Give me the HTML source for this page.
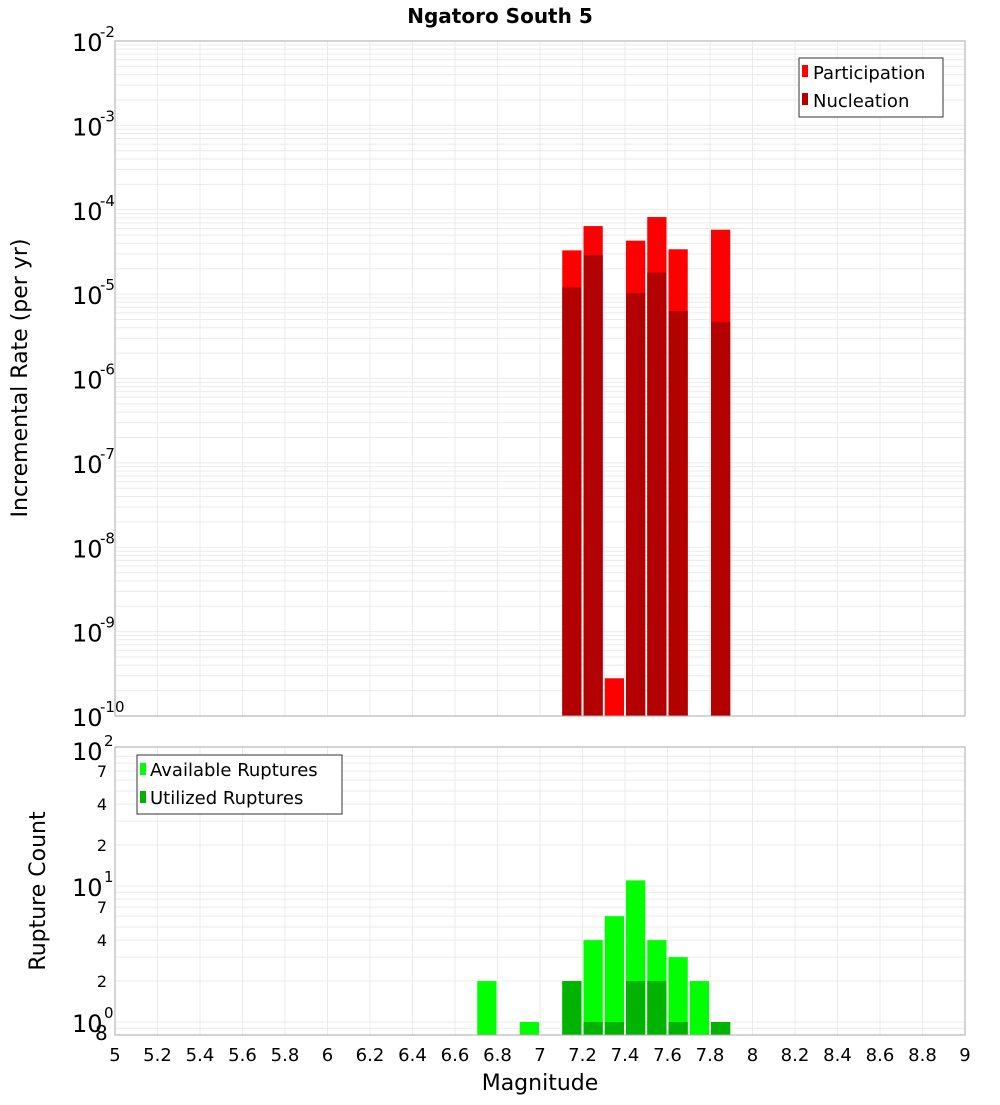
<!DOCTYPE html>
<html><head><meta charset="utf-8"><style>
body{margin:0;background:#fff;}
svg text{font-family:"DejaVu Sans","Liberation Sans",sans-serif;}
</style></head><body>
<svg id="chart" width="1000" height="1100" xmlns="http://www.w3.org/2000/svg">
<text x="500" y="23" text-anchor="middle" font-size="20" font-weight="bold">Ngatoro South 5</text>
<text transform="translate(27,378) rotate(-90)" text-anchor="middle" font-size="22">Incremental Rate (per yr)</text>
<text transform="translate(45,891) rotate(-90)" text-anchor="middle" font-size="22">Rupture Count</text>
<text x="540" y="1090" text-anchor="middle" font-size="22">Magnitude</text>
<g id="topg"></g><g id="botg"></g>
</svg>
<script>
const magBins=[7.15,7.25,7.35,7.45,7.55,7.65,7.85];
const participation=[3.3e-5,6.4e-5,2.8e-10,4.3e-5,8.2e-5,3.4e-5,5.8e-5];
const nucleation=[1.2e-5,2.9e-5,0,1.03e-5,1.8e-5,6.3e-6,4.7e-6];
const countBins=[6.75,6.95,7.15,7.25,7.35,7.45,7.55,7.65,7.75,7.85];
const available=[2,1,2,4,6,11,4,3,2,1];
const utilized=[0,0,2,1,1,2,2,1,0,1];
const xTicks=[5,5.2,5.4,5.6,5.8,6,6.2,6.4,6.6,6.8,7,7.2,7.4,7.6,7.8,8,8.2,8.4,8.6,8.8,9];
const topExps=[-2,-3,-4,-5,-6,-7,-8,-9,-10];
const NS="http://www.w3.org/2000/svg";
const X0=115,X1=965;
const xs=m=>X0+(m-5)/4*(X1-X0);
const TT=41,TB=716;
const yT=v=>TT+(-2-Math.log10(v))/8*(TB-TT);
const BT=747,BB=1035;
const yB=v=>1022-Math.log10(v)*136;
function el(p,t,a){const e=document.createElementNS(NS,t);for(const k in a)e.setAttribute(k,a[k]);p.appendChild(e);return e;}
const topG=document.getElementById('topg'),botG=document.getElementById('botg');
let r=el(topG,'rect',{x:X0,y:TT,width:X1-X0,height:TB-TT,fill:'#fff'});


for(let e=-10;e<-2;e++)for(let k=1;k<10;k++){const yy=yT(k*Math.pow(10,e));
 const l=el(topG,'line',{x1:X0,x2:X1,y1:yy,y2:yy,stroke:'#ebebeb','stroke-width':1});
 
 }
xTicks.forEach(t=>{const l=el(topG,'line',{x1:xs(t),x2:xs(t),y1:TT,y2:TB,stroke:'#ebebeb'});
 
 });
magBins.forEach((m,i)=>{
 const w=xs(5.1)-xs(5);
 if(participation[i]>0){const b=el(topG,'rect',{x:xs(m-0.05)+1,y:yT(participation[i]),width:w-2,height:TB-yT(participation[i]),fill:'#ff0000'});
 
 }
 if(nucleation[i]>0){const b=el(topG,'rect',{x:xs(m-0.05)+1,y:yT(nucleation[i]),width:w-2,height:TB-yT(nucleation[i]),fill:'#b30000'});
 
 }
});
r=el(topG,'rect',{x:X0,y:TT,width:X1-X0,height:TB-TT,fill:'none',stroke:'#aaa'});


topExps.forEach(e=>{const yy=yT(Math.pow(10,e));
 const t=el(topG,'text',{x:72,y:yy+10,'font-size':24});
 
 
 t.textContent='10';
 const s=el(topG,'text',{x:100,y:yy-4,'font-size':15});
 
 
 s.textContent=String(e);});
let g=el(topG,'g',{});


el(g,'rect',{x:799,y:58,width:144,height:59,fill:'#fff',stroke:'#333'});
[['Participation','#ff0000',73],['Nucleation','#b30000',101]].forEach(([n,c,yy])=>{
 el(g,'rect',{x:802,y:yy-8,width:6,height:12,fill:c});
 const t=el(g,'text',{x:813,y:yy+6,'font-size':18});
 
 
 t.textContent=n;});
for(let e=-1;e<2;e++)for(let k=1;k<10;k++){const v=k*Math.pow(10,e);if(v<0.8)continue;const yy=yB(v);
 const l=el(botG,'line',{x1:X0,x2:X1,y1:yy,y2:yy,stroke:'#ebebeb'});
 
 }
xTicks.forEach(t=>{const l=el(botG,'line',{x1:xs(t),x2:xs(t),y1:BT,y2:BB,stroke:'#ebebeb'});
 
 });
countBins.forEach((m,i)=>{
 const w=xs(5.1)-xs(5);
 if(available[i]>0){const b=el(botG,'rect',{x:xs(m-0.05)+1,y:yB(available[i]),width:w-2,height:BB-yB(available[i]),fill:'#00ff00'});
 
 }
 if(utilized[i]>0){const b=el(botG,'rect',{x:xs(m-0.05)+1,y:yB(utilized[i]),width:w-2,height:BB-yB(utilized[i]),fill:'#00b300'});
 
 }
});
r=el(botG,'rect',{x:X0,y:BT,width:X1-X0,height:BB-BT,fill:'none',stroke:'#aaa'});


[[100,'2'],[10,'1'],[1,'0']].forEach(([v,e])=>{const yy=yB(v);
 const t=el(botG,'text',{x:72,y:yy+10,'font-size':24});
 
 
 t.textContent='10';
 const s=el(botG,'text',{x:104,y:yy-4,'font-size':15});
 
 
 s.textContent=e;});
[[70,'7'],[40,'4'],[20,'2'],[7,'7'],[4,'4'],[2,'2']].forEach(([v,lab])=>{
 const t=el(botG,'text',{x:107,y:yB(v)+6,'font-size':16,'text-anchor':'end'});
 
 
 t.textContent=lab;});
let t8=el(botG,'text',{x:95,y:1040,'font-size':20});


t8.textContent='8';
xTicks.forEach(v=>{const t=el(botG,'text',{x:xs(v),y:1061,'font-size':18,'text-anchor':'middle'});
 
 
 t.textContent=String(v);});
g=el(botG,'g',{});


el(g,'rect',{x:137,y:755,width:205,height:59,fill:'#fff',stroke:'#333'});
[['Available Ruptures','#00ff00',770],['Utilized Ruptures','#00b300',798]].forEach(([n,c,yy])=>{
 el(g,'rect',{x:140,y:yy-7,width:6,height:12,fill:c});
 const t=el(g,'text',{x:150,y:yy+6,'font-size':18});
 
 
 t.textContent=n;});
</script>
</body></html>
